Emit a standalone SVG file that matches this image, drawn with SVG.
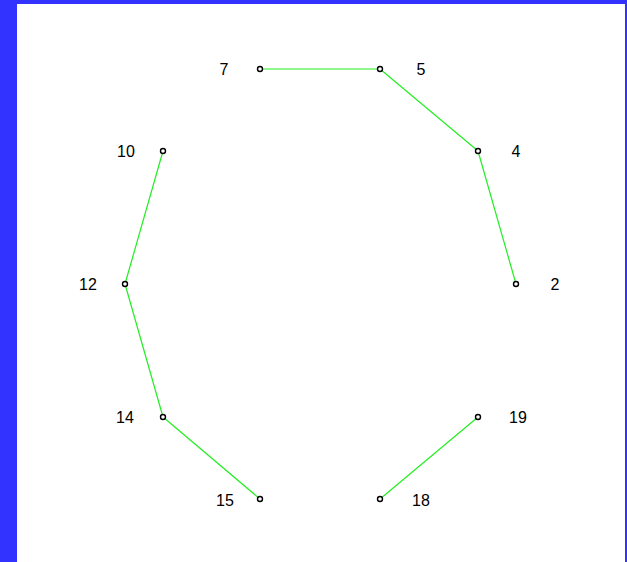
<svg xmlns="http://www.w3.org/2000/svg" width="627" height="562" viewBox="0 0 627 562">
<style>
.bg{fill:#ffffff}
.border{fill:#3333ff}
.edge{stroke:#22ee22;stroke-width:1.2;fill:none}
.pt{fill:#ffffff;stroke:#000000;stroke-width:1.4}
.lbl{font-family:"Liberation Sans",Arial,sans-serif;font-size:16px;fill:#000000;text-anchor:middle;dominant-baseline:central}
</style>
<rect class="bg" x="0" y="0" width="627" height="562"/>
<rect class="border" x="0" y="0" width="17" height="562"/>
<rect class="border" x="0" y="0" width="627" height="4"/>
<rect class="border" x="625" y="0" width="2" height="562"/>
<g id="connectors">
<line class="edge" x1="260" y1="69" x2="380" y2="69"/>
<line class="edge" x1="380" y1="69" x2="478" y2="151"/>
<line class="edge" x1="478" y1="151" x2="516" y2="284"/>
<line class="edge" x1="163" y1="151" x2="125" y2="284"/>
<line class="edge" x1="125" y1="284" x2="163" y2="417"/>
<line class="edge" x1="163" y1="417" x2="260" y2="499"/>
<line class="edge" x1="380" y1="499" x2="478" y2="417"/>
</g>
<g id="n7"><circle class="pt" cx="260" cy="69" r="2.5"/><text class="lbl" x="224" y="69">7</text></g>
<g id="n5"><circle class="pt" cx="380" cy="69" r="2.5"/><text class="lbl" x="421" y="69">5</text></g>
<g id="n4"><circle class="pt" cx="478" cy="151" r="2.5"/><text class="lbl" x="516" y="151">4</text></g>
<g id="n2"><circle class="pt" cx="516" cy="284" r="2.5"/><text class="lbl" x="555" y="284">2</text></g>
<g id="n19"><circle class="pt" cx="478" cy="417" r="2.5"/><text class="lbl" x="518" y="417">19</text></g>
<g id="n18"><circle class="pt" cx="380" cy="499" r="2.5"/><text class="lbl" x="421" y="500">18</text></g>
<g id="n15"><circle class="pt" cx="260" cy="499" r="2.5"/><text class="lbl" x="225" y="500">15</text></g>
<g id="n14"><circle class="pt" cx="163" cy="417" r="2.5"/><text class="lbl" x="125" y="417">14</text></g>
<g id="n12"><circle class="pt" cx="125" cy="284" r="2.5"/><text class="lbl" x="88" y="284">12</text></g>
<g id="n10"><circle class="pt" cx="163" cy="151" r="2.5"/><text class="lbl" x="126" y="151">10</text></g>
</svg>
